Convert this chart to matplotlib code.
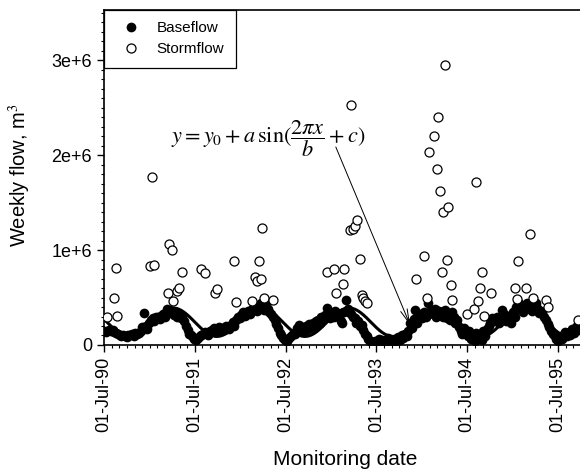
import numpy as np
import pandas as pd
import matplotlib
matplotlib.use('Agg')
from matplotlib import pyplot as plt
from matplotlib import dates as mdates
from matplotlib.lines import Line2D
from matplotlib.ticker import MultipleLocator

plt.rcParams['font.family'] = ['Liberation Sans', 'DejaVu Sans']
plt.rcParams['mathtext.fontset'] = 'stix'

# weekly baseflow, thousand m3, first week starting 1990-06-24
base_start = '1990-06-24'
base_y1 = [140, 150, 135, 145, 155, 150, 160, 140, 130, 115, 100, 90, 105,
           95, 85, 100, 110, 120, 95, 130, 115, 125, 150, 190, 340, 200,
           170, 230, 260, 280, 250, 300, 290, 270, 310, 330, 300, 380, 360,
           370, 340, 320, 350, 300, 330, 280, 300, 250, 200, 160, 120, 100]
base_y2 = [80, 60, 50, 70, 90, 100, 120, 140, 130, 110, 150, 160, 180, 140,
           170, 190, 150, 180, 160, 200, 190, 170, 210, 240, 200, 260, 300,
           280, 320, 350, 310, 340, 360, 330, 380, 400, 420, 360, 390, 440,
           410, 370, 420, 380, 350, 330, 300, 260, 220, 180, 130, 100]
base_y3 = [70, 50, 40, 60, 80, 100, 130, 120, 180, 210, 160, 190, 140, 200,
           170, 220, 180, 230, 200, 250, 260, 230, 300, 280, 320, 390, 330,
           280, 340, 300, 360, 340, 300, 250, 230, 350, 470, 380, 350, 330,
           300, 280, 230, 250, 200, 210, 160, 120, 90, 60, 40, 30]
base_y4 = [30, 40, 20, 60, 30, 50, 20, 40, 70, 30, 50, 25, 60, 40, 80, 50,
           100, 70, 120, 90, 150, 230, 180, 270, 370, 230, 300, 330, 280,
           350, 300, 440, 330, 370, 340, 380, 300, 360, 320, 340, 300, 370,
           280, 320, 260, 350, 300, 230, 260, 190, 150, 120]
base_y5 = [180, 120, 90, 150, 60, 100, 40, 130, 70, 110, 50, 150, 90, 170,
           200, 230, 280, 250, 260, 300, 230, 280, 370, 330, 250, 310, 290,
           230, 350, 300, 400, 450, 380, 420, 350, 400, 440, 420, 380, 360,
           400, 440, 390, 340, 360, 340, 300, 260, 220, 190, 150, 120]
base_y6 = [90, 60, 40, 80, 60, 100, 140, 90, 140, 110, 170, 130, 190, 200,
           160, 180]

# stormflow weeks, million m3
storm_dates = ['1990-07-14', '1990-08-10', '1990-08-18', '1990-08-24',
               '1991-01-02', '1991-01-09', '1991-01-20', '1991-03-15',
               '1991-03-21', '1991-03-30', '1991-04-05', '1991-04-21',
               '1991-04-29', '1991-05-11', '1991-07-28', '1991-08-11',
               '1991-09-22', '1991-09-29', '1991-12-07', '1991-12-13',
               '1992-02-18', '1992-02-28', '1992-03-09', '1992-03-16',
               '1992-03-24', '1992-03-29', '1992-04-05', '1992-05-10',
               '1992-12-13', '1993-01-12', '1993-01-18', '1993-02-15',
               '1993-02-20', '1993-03-17', '1993-03-21', '1993-03-29',
               '1993-04-06', '1993-04-12', '1993-04-26', '1993-05-02',
               '1993-05-09', '1993-05-17', '1993-05-23', '1993-12-06',
               '1994-01-09', '1994-01-19', '1994-01-28', '1994-02-19',
               '1994-02-28', '1994-03-04', '1994-03-14', '1994-03-20',
               '1994-03-27', '1994-04-03', '1994-04-09', '1994-04-16',
               '1994-04-26', '1994-05-01', '1994-06-29', '1994-07-30',
               '1994-08-06', '1994-08-15', '1994-08-21', '1994-08-28',
               '1994-09-06', '1994-10-03', '1995-01-09', '1995-01-16',
               '1995-01-22', '1995-02-22', '1995-03-12', '1995-03-22',
               '1995-05-16', '1995-05-23', '1995-09-20']
storm_flow = [0.30, 0.50, 0.81, 0.31, 0.83, 1.77, 0.84, 0.55, 1.06, 1.00,
              0.46, 0.57, 0.60, 0.77, 0.80, 0.76, 0.55, 0.59, 0.89, 0.45,
              0.46, 0.72, 0.67, 0.89, 0.70, 1.23, 0.50, 0.47, 0.77, 0.80,
              0.55, 0.64, 0.80, 1.21, 2.53, 1.22, 1.25, 1.32, 0.91, 0.53,
              0.49, 0.46, 0.44, 0.69, 0.94, 0.50, 2.03, 2.20, 1.85, 2.40,
              1.62, 0.77, 1.40, 2.95, 0.90, 1.45, 0.63, 0.47, 0.33, 0.38,
              1.72, 0.46, 0.60, 0.77, 0.31, 0.55, 0.60, 0.48, 0.89, 0.60,
              1.17, 0.50, 0.47, 0.40, 0.26]

# sine fit y = y0 + a*sin(2*pi*x/b + c), x in days from fit_origin
fit_origin = '1990-07-01'
fit_y0 = 2.4e5
fit_a = 1.5e5
fit_b = 354.0
fit_c = 2.93

baseflow = np.array(base_y1 + base_y2 + base_y3 + base_y4 + base_y5 + base_y6) * 1e3
base_dates = pd.date_range(base_start, periods=len(baseflow), freq='7D')
storm_x = pd.to_datetime(storm_dates)
storm_y = np.array(storm_flow) * 1e6

days = np.arange(0, 1920)
fit_x = pd.Timestamp(fit_origin) + pd.to_timedelta(days, unit='D')
fit_y = fit_y0 + fit_a * np.sin(2 * np.pi * days / fit_b + fit_c)

fig = plt.figure(figsize=(5.8, 4.7), dpi=100)
ax = fig.add_axes([0.1793, 0.266, 0.8207, 0.7128])

ax.plot(base_dates, baseflow, 'o', color='black', ms=7, mew=0, zorder=2)
ax.plot(fit_x, fit_y, '-', color='black', lw=2.2, zorder=3)
ax.plot(storm_x, storm_y, 'o', mfc='white', mec='black', ms=6.5, mew=0.9,
        zorder=4)

ax.set_xlim(pd.Timestamp('1990-07-01'), pd.Timestamp('1995-09-28'))
ax.set_ylim(0, 3.53e6)

ax.set_yticks([0, 1e6, 2e6, 3e6])
ax.set_yticklabels(['0', '1e+6', '2e+6', '3e+6'])
ax.yaxis.set_minor_locator(MultipleLocator(1e5))
ax.xaxis.set_major_locator(mdates.MonthLocator(bymonth=7, bymonthday=1))
ax.xaxis.set_major_formatter(mdates.DateFormatter('%d-%b-%y'))
ax.xaxis.set_minor_locator(mdates.MonthLocator())
plt.setp(ax.get_xticklabels(), rotation=90)

ax.tick_params(which='major', direction='out', length=5, width=1,
               labelsize=13, color='black')
ax.tick_params(which='minor', direction='out', length=2.5, width=0.8)
for side in ['left', 'bottom', 'top']:
    ax.spines[side].set_linewidth(1.2)
ax.spines['right'].set_visible(False)

ax.set_xlabel('Monitoring date', fontsize=15)
ax.set_ylabel('Weekly flow, m$^3$', fontsize=14.5)
ax.xaxis.set_label_coords(0.506, -0.312)
ax.yaxis.set_label_coords(-0.15, 0.507)

handles = [Line2D([], [], ls='none', marker='o', color='black', ms=7,
                  mew=0),
           Line2D([], [], ls='none', marker='o', mfc='white', mec='black',
                  ms=6.5, mew=0.9)]
leg = ax.legend(handles, ['Baseflow', 'Stormflow'], loc='upper left',
                bbox_to_anchor=(0, 1), borderaxespad=0, fontsize=11,
                fancybox=False, framealpha=1, edgecolor='black',
                handlelength=2.0, handletextpad=0.7, borderpad=0.75,
                labelspacing=0.45)
leg.get_frame().set_linewidth(0.9)

ax.text(0.345, 0.615, r'$y = y_0 + a\,\sin(\dfrac{2\pi x}{b} + c)$',
        transform=ax.transAxes, ha='center', va='center', fontsize=16)
ax.annotate('', xy=(0.643, 0.06), xytext=(0.487, 0.591),
            xycoords='axes fraction', textcoords='axes fraction',
            arrowprops=dict(arrowstyle='->,head_length=1.0,head_width=0.25',
                            color='black', lw=0.7, shrinkA=0, shrinkB=0))

plt.savefig('out.png', dpi=100)
